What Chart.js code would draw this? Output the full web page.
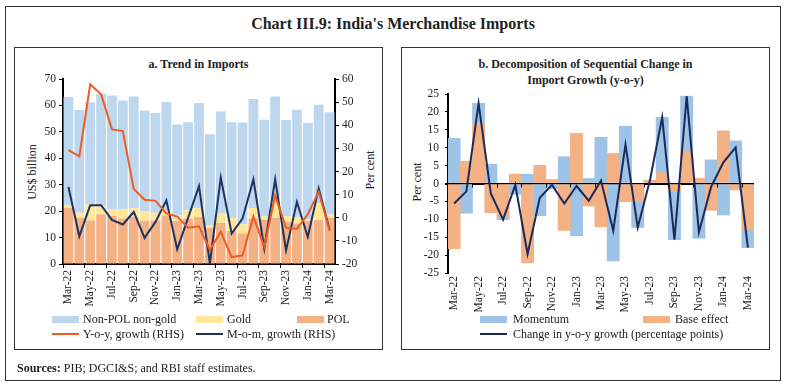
<!DOCTYPE html>
<html>
<head>
<meta charset="utf-8">
<script src="https://cdn.jsdelivr.net/npm/chart.js@4.4.1/dist/chart.umd.min.js"></script>
<style>
  body { margin: 0; width: 786px; height: 388px; background: #fff; position: relative; overflow: hidden;
         font-family: "Liberation Serif", serif; color: #222; }
  .box { position: absolute; border: 1.5px solid #333; box-sizing: border-box; }
  .txt { position: absolute; font-size: 12px; line-height: 14px; white-space: nowrap; }
  .rot { position: absolute; font-size: 12px; line-height: 14px; white-space: nowrap;
         transform: translate(-50%, -50%) rotate(-90deg); }
  .sw { position: absolute; width: 27px; height: 7px; }
  .ln { position: absolute; width: 27px; height: 2px; }
  canvas { position: absolute; }
</style>
</head>
<body>
<div class="box" style="left:5px;top:6px;width:776px;height:375px;"></div>
<div class="txt" style="left:5px;top:15px;width:776px;text-align:center;font-size:16px;line-height:18px;font-weight:bold;">Chart III.9: India's Merchandise Imports</div>

<!-- panel a -->
<div class="box" style="left:14px;top:47px;width:369px;height:303px;"></div>
<div class="txt" style="left:14px;top:57px;width:369px;text-align:center;font-weight:bold;">a. Trend in Imports</div>
<div class="rot" style="left:32px;top:172px;">US$ billion</div>
<div class="rot" style="left:370px;top:170px;">Per cent</div>
<canvas id="chartA" width="369" height="302" style="left:14px;top:47px;"></canvas>

<div class="sw" style="left:52px;top:316px;background:#BDD7EE;"></div>
<div class="txt" style="left:83px;top:312px;">Non-POL non-gold</div>
<div class="sw" style="left:196px;top:316px;background:#FFE699;"></div>
<div class="txt" style="left:227px;top:312px;">Gold</div>
<div class="sw" style="left:297px;top:316px;background:#F4B183;"></div>
<div class="txt" style="left:327px;top:312px;">POL</div>
<div class="ln" style="left:52px;top:333px;background:#EF5B25;"></div>
<div class="txt" style="left:83px;top:327px;">Y-o-y, growth (RHS)</div>
<div class="ln" style="left:196px;top:333px;background:#1F3260;"></div>
<div class="txt" style="left:227px;top:327px;">M-o-m, growth (RHS)</div>

<!-- panel b -->
<div class="box" style="left:401px;top:47px;width:369px;height:303px;"></div>
<div class="txt" style="left:401px;top:56px;width:369px;text-align:center;font-weight:bold;line-height:16px;">b. Decomposition of Sequential Change in<br>Import Growth (y-o-y)</div>
<div class="rot" style="left:417px;top:182px;">Per cent</div>
<canvas id="chartB" width="368" height="302" style="left:401px;top:47px;"></canvas>

<div class="sw" style="left:480px;top:316px;background:#9DC3E6;"></div>
<div class="txt" style="left:513px;top:312px;">Momentum</div>
<div class="sw" style="left:643px;top:316px;background:#F4B183;"></div>
<div class="txt" style="left:675px;top:312px;">Base effect</div>
<div class="ln" style="left:480px;top:333px;background:#1B2A5A;"></div>
<div class="txt" style="left:513px;top:327px;">Change in y-o-y growth (percentage points)</div>

<div class="txt" style="left:17px;top:361px;"><b>Sources:</b> PIB; DGCI&amp;S; and RBI staff estimates.</div>

<script>
// months shown on both panels
const months = ['Mar-22', 'Apr-22', 'May-22', 'Jun-22', 'Jul-22', 'Aug-22', 'Sep-22', 'Oct-22', 'Nov-22',
  'Dec-22', 'Jan-23', 'Feb-23', 'Mar-23', 'Apr-23', 'May-23', 'Jun-23', 'Jul-23', 'Aug-23', 'Sep-23',
  'Oct-23', 'Nov-23', 'Dec-23', 'Jan-24', 'Feb-24', 'Mar-24'];

// panel a: US$ billion
const pol = [21.2, 17.5, 16.5, 18.8, 18.2, 17.2, 17.8, 16.4, 16.4, 18.4, 16.3, 17.2, 17.8,
  13.6, 15.5, 12.5, 11.6, 17.2, 16.8, 17.5, 16.0, 15.3, 16.3, 16.6, 17.4];
const gold = [1.0, 1.9, 6.1, 3.1, 2.6, 3.5, 3.3, 3.5, 3.0, 1.9, 2.1, 3.1, 3.4,
  1.0, 3.8, 4.9, 3.4, 4.0, 1.2, 7.0, 2.0, 2.4, 0.7, 6.5, 1.3];
const nonPolNonGold = [41.0, 38.9, 38.6, 42.5, 43.0, 41.2, 42.3, 38.2, 37.7, 41.0, 34.4, 33.3, 39.7,
  34.5, 38.4, 36.2, 38.5, 41.2, 36.6, 38.9, 36.5, 40.7, 36.4, 37.2, 38.7];
// panel a: per cent (RHS)
const yoyGrowth = [29.2, 26.5, 57.7, 53.4, 38.2, 37.5, 12.5, 7.8, 7.3, 1.9, 0.5, -4.3, -3.7,
  -14.0, -6.0, -17.0, -16.3, 0.6, -12.6, 9.5, -4.3, -4.8, 1.5, 11.2, -5.6];
const momGrowth = [13.3, -8.0, 5.4, 5.4, -0.9, -2.9, 2.5, -8.7, -1.8, 7.5, -13.7, 0.0, 13.7,
  -19.8, 17.4, -6.8, -0.4, 16.6, -13.3, 16.6, -14.1, 6.9, -8.3, 12.7, -5.2];

// panel b: per cent
const momentum = [12.6, -8.3, 5.6, 5.4, -0.9, -3.0, 2.6, -9.0, -1.5, 7.5, -14.6, 1.4, 12.9,
  -21.6, 16.0, -7.3, 0.1, 15.5, -13.4, 15.3, -15.3, 6.6, -8.8, 11.9, -4.9];
const baseEffect = [-18.2, 6.2, 16.8, -8.2, -9.2, 2.6, -22.2, 5.1, 1.1, -13.1, 14.0, -6.3, -12.1,
  8.4, -5.1, -5.0, 0.8, 3.0, -2.3, 9.1, 1.5, -7.5, 14.7, -1.8, -13.0];
const yoyChange = [-5.6, -2.2, 22.4, -2.8, -10.1, -0.4, -19.7, -4.0, -0.4, -5.6, -0.7, -4.8, 0.8,
  -13.2, 10.9, -12.3, 0.9, 18.5, -15.7, 24.4, -13.6, -0.9, 5.9, 10.1, -17.9];

// axis ranges
const usdAxis = [0, 70, 10];
const pctAxisA = [-20, 60, 10];
const pctAxisB = [-25, 25, 5];

const tickFont = { family: 'Liberation Serif', size: 11.5 };
const tickColor = '#222';

function everyOther(value, index) {
  return index % 2 === 0 ? months[index] : '';
}

// small tick marks on the zero line of panel b, every other month boundary
const zeroTicks = {
  id: 'zeroTicks',
  afterDatasetsDraw: function (chart) {
    const x = chart.scales.x, y = chart.scales.y, c = chart.ctx;
    const y0 = y.getPixelForValue(0);
    const half = (x.getPixelForValue(1) - x.getPixelForValue(0)) / 2;
    c.save();
    c.strokeStyle = '#000';
    c.lineWidth = 1;
    for (let i = 2; i < months.length; i += 2) {
      const px = Math.round(x.getPixelForValue(i) - half) + 0.5;
      c.beginPath();
      c.moveTo(px, y0);
      c.lineTo(px, y0 + 4);
      c.stroke();
    }
    c.restore();
  }
};

new Chart(document.getElementById('chartA'), {
  data: {
    labels: months,
    datasets: [
      { type: 'line', data: yoyGrowth, yAxisID: 'y1', borderColor: '#EF5B25', borderWidth: 2, pointRadius: 0, tension: 0 },
      { type: 'line', data: momGrowth, yAxisID: 'y1', borderColor: '#1F3260', borderWidth: 2, pointRadius: 0, tension: 0 },
      { type: 'bar', data: pol, yAxisID: 'y', backgroundColor: '#F4B183', stack: 's' },
      { type: 'bar', data: gold, yAxisID: 'y', backgroundColor: '#FFE699', stack: 's' },
      { type: 'bar', data: nonPolNonGold, yAxisID: 'y', backgroundColor: '#BDD7EE', stack: 's' }
    ]
  },
  options: {
    responsive: false,
    animation: false,
    layout: { padding: { top: 32, left: 0, right: 0, bottom: 0 } },
    datasets: { bar: { barPercentage: 0.9, categoryPercentage: 1 } },
    plugins: { legend: { display: false }, tooltip: { enabled: false } },
    scales: {
      x: {
        stacked: true,
        afterFit: function (scale) { scale.height = 85; },
        border: { display: true, color: '#000', width: 2 },
        grid: {
          drawOnChartArea: false, drawTicks: true, tickLength: 4,
          color: function (ctx) { return ctx.index % 2 === 0 ? '#000' : 'rgba(0,0,0,0)'; }
        },
        ticks: { autoSkip: false, minRotation: 90, maxRotation: 90, padding: 2, font: tickFont, color: tickColor, callback: everyOther }
      },
      y: {
        stacked: true,
        position: 'left',
        min: usdAxis[0], max: usdAxis[1],
        afterFit: function (scale) { scale.width = 49; },
        border: { display: true, color: '#000', width: 2 },
        grid: { drawOnChartArea: false, tickLength: 4, color: '#000' },
        ticks: { stepSize: usdAxis[2], padding: 3, font: tickFont, color: tickColor }
      },
      y1: {
        stacked: false,
        position: 'right',
        min: pctAxisA[0], max: pctAxisA[1],
        afterFit: function (scale) { scale.width = 48; },
        border: { display: true, color: '#000', width: 2 },
        grid: { drawOnChartArea: false, tickLength: 4, color: '#000' },
        ticks: { stepSize: pctAxisA[2], padding: 3, font: tickFont, color: tickColor }
      }
    }
  }
});

new Chart(document.getElementById('chartB'), {
  data: {
    labels: months,
    datasets: [
      { type: 'line', data: yoyChange, borderColor: '#1B2A5A', borderWidth: 2, pointRadius: 0, tension: 0, stack: 'line' },
      { type: 'bar', data: baseEffect, backgroundColor: '#F4B183', stack: 's' },
      { type: 'bar', data: momentum, backgroundColor: '#9DC3E6', stack: 's' }
    ]
  },
  options: {
    responsive: false,
    animation: false,
    layout: { padding: { top: 47, left: 0, right: 15, bottom: 0 } },
    datasets: { bar: { barPercentage: 1, categoryPercentage: 1 } },
    plugins: { legend: { display: false }, tooltip: { enabled: false } },
    scales: {
      x: {
        stacked: true,
        afterFit: function (scale) { scale.height = 76; },
        border: { display: false },
        grid: { display: false, drawTicks: false },
        ticks: { autoSkip: false, minRotation: 90, maxRotation: 90, padding: 3, font: tickFont, color: tickColor, callback: everyOther }
      },
      y: {
        stacked: true,
        z: 1,
        min: pctAxisB[0], max: pctAxisB[1],
        afterFit: function (scale) { scale.width = 47; },
        border: { display: true, color: '#000', width: 2 },
        grid: {
          tickLength: 3, tickColor: '#000',
          color: function (ctx) { return ctx.tick && ctx.tick.value === 0 ? '#000' : 'rgba(0,0,0,0)'; },
          lineWidth: function (ctx) { return ctx.tick && ctx.tick.value === 0 ? 2 : 1; }
        },
        ticks: { stepSize: pctAxisB[2], padding: 6, font: tickFont, color: tickColor }
      }
    }
  },
  plugins: [zeroTicks]
});
</script>
</body>
</html>
